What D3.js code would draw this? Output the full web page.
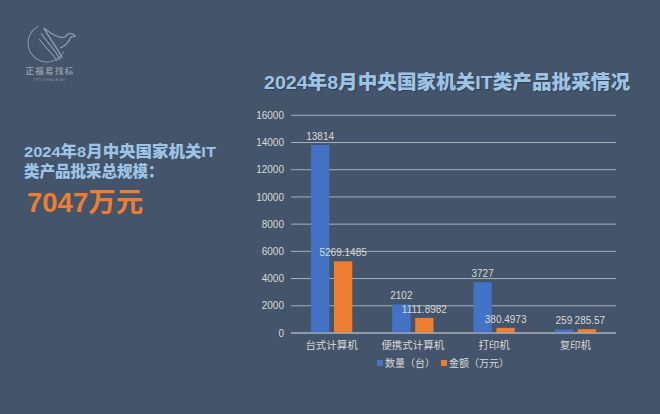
<!DOCTYPE html>
<html><head><meta charset="utf-8">
<script src="https://cdn.jsdelivr.net/npm/d3@7"></script>
<style>
html,body{margin:0;padding:0;background:#44546a;}
svg{display:block;}
</style></head>
<body>
<svg id="chart" width="660" height="414"></svg>
<script>
const categories = ["台式计算机","便携式计算机","打印机","复印机"];
const seriesNames = ["数量（台）","金额（万元）"];
const quantity = [13814, 2102, 3727, 259];
const amount = [5269.1485, 1111.8982, 380.4973, 285.57];
const amountLabels = ["5269.1485","1111.8982","380.4973","285.57"];
const yTicks = [0,2000,4000,6000,8000,10000,12000,14000,16000];
const chartTitle = "2024年8月中央国家机关IT类产品批采情况";
const sideLine1 = "2024年8月中央国家机关IT";
const sideLine2 = "类产品批采总规模：";
const totalText = "7047万元";

(function(){
const colors = ["#4472c4","#ed7d31"];
const svg = d3.select("#chart");
const W = 660, H = 414;
svg.append("rect").attr("width",W).attr("height",H).attr("fill","#44546a");

const FONT = "'Liberation Sans','Noto Sans CJK SC',sans-serif";
const TXT = "#d9d9d9";

// Logo
const logo = svg.append("g").attr("fill","none").attr("stroke","#8d97a6");
logo.append("path").attr("d", d3.arc()({innerRadius:18.5,outerRadius:19.5,startAngle:-0.15*Math.PI,endAngle:-1.35*Math.PI}))
  .attr("transform","translate(47,43)").attr("fill","#8d97a6").attr("stroke","none");
logo.append("path").attr("d","M44,28 C50,40 58,48 62,58").attr("stroke-width",1.6);
logo.append("path").attr("d","M41,33 C48,44 56,50 60,60").attr("stroke-width",1.3);
logo.append("path").attr("d","M39,39 C46,48 53,54 57,61").attr("stroke-width",1.1);
logo.append("path").attr("d","M44,28 C54,36 62,40 66,36 C68,33 72,32 75,36 L71,37 C69,42 66,46 60,48").attr("stroke-width",1.4);
svg.append("text").attr("x",50).attr("y",74).attr("text-anchor","middle")
  .attr("font-family","'Noto Sans CJK SC',serif").attr("font-weight","bold").attr("font-size",8.5).attr("fill","#8d97a6")
  .attr("letter-spacing",1.3).text("正福易找标");
svg.append("text").attr("x",50).attr("y",81).attr("text-anchor","middle")
  .attr("font-family",FONT).attr("font-size",3.5).attr("fill","#8d97a6")
  .attr("letter-spacing",0.6).text("ZFYIZHAOBIAO");

// Side text
svg.append("text").attr("x",24).attr("y",157).attr("font-family",FONT).attr("font-weight",900)
  .attr("font-size",15.5).attr("fill","#9dc3e6").attr("textLength",192).attr("lengthAdjust","spacingAndGlyphs").text(sideLine1);
svg.append("text").attr("x",24).attr("y",177).attr("font-family",FONT).attr("font-weight",900)
  .attr("font-size",15.5).attr("fill","#9dc3e6").text(sideLine2);
svg.append("text").attr("x",27).attr("y",212).attr("font-family",FONT).attr("font-weight","bold")
  .attr("font-size",27.5).attr("fill","#ed7d31").text(totalText);

// Title
svg.append("text").attr("x",264).attr("y",89)
  .attr("font-family",FONT).attr("font-weight",900).attr("font-size",19)
  .attr("textLength",366).attr("lengthAdjust","spacingAndGlyphs")
  .attr("fill","#9dc3e6").style("text-shadow","1px 1px 1px rgba(0,0,0,0.25)")
  .text(chartTitle);

// Chart
const pl = 291, pr = 616, pt = 115.3, pb = 333;
const y = d3.scaleLinear().domain([0,16000]).range([pb, pt]);
const x0 = d3.scaleBand().domain(categories).range([pl,pr]).paddingInner(0).paddingOuter(0);
const barW = 18.3, gap = 4.7;

const grid = svg.append("g");
grid.selectAll("line").data(yTicks).join("line")
  .attr("x1",pl).attr("x2",pr)
  .attr("y1",d=>y(d)).attr("y2",d=>y(d))
  .attr("stroke","#a7afba").attr("stroke-width",1);

const yAxis = d3.axisLeft(y).tickValues(yTicks).tickSize(0).tickPadding(0).tickFormat(d3.format("d"));
const ya = svg.append("g").attr("transform",`translate(${pl-7},0)`).call(yAxis);
ya.select(".domain").remove();
ya.selectAll("text").attr("font-family",FONT).attr("font-size",10).attr("fill",TXT);

const series = [quantity, amount];
const labelTexts = [quantity.map(String), amountLabels];
series.forEach((vals, si) => {
  const g = svg.append("g");
  const xc = c => x0(c) + x0.bandwidth()/2 + (si===0 ? -(gap/2+barW) : gap/2);
  g.selectAll("rect").data(categories).join("rect")
    .attr("x", c => xc(c))
    .attr("width", barW)
    .attr("y", (c,i) => y(vals[i]))
    .attr("height", (c,i) => pb - y(vals[i]))
    .attr("fill", colors[si]);
  g.selectAll("text").data(categories).join("text")
    .attr("x", (c,i) => xc(c) + barW/2 + (si===1 && i===3 ? 3 : 0))
    .attr("y", (c,i) => y(vals[i]) - 5)
    .attr("text-anchor","middle")
    .attr("font-family",FONT).attr("font-size",10).attr("fill",TXT)
    .text((c,i) => labelTexts[si][i]);
});

// x axis line
svg.append("line").attr("x1",pl).attr("x2",pr).attr("y1",pb).attr("y2",pb)
  .attr("stroke","#aeb5bf").attr("stroke-width",1);
const xAxis = d3.axisBottom(x0).tickSize(0).tickPadding(0);
const xa = svg.append("g").attr("transform",`translate(0,${pb})`).call(xAxis);
xa.select(".domain").remove();
xa.selectAll("text").attr("dy",null).attr("y",16).attr("font-family","'Noto Sans CJK SC',sans-serif")
  .attr("font-size",10.5).attr("fill",TXT);

// Legend
const legend = svg.append("g");
const legX = [377, 441];
seriesNames.forEach((n,i) => {
  legend.append("rect").attr("x",legX[i]).attr("y",360).attr("width",6).attr("height",6).attr("fill",colors[i]);
  legend.append("text").attr("x",legX[i]+8).attr("y",367).attr("font-family","'Noto Sans CJK SC',sans-serif")
    .attr("font-size",10).attr("fill",TXT).text(n);
});
})();
</script>
</body></html>
